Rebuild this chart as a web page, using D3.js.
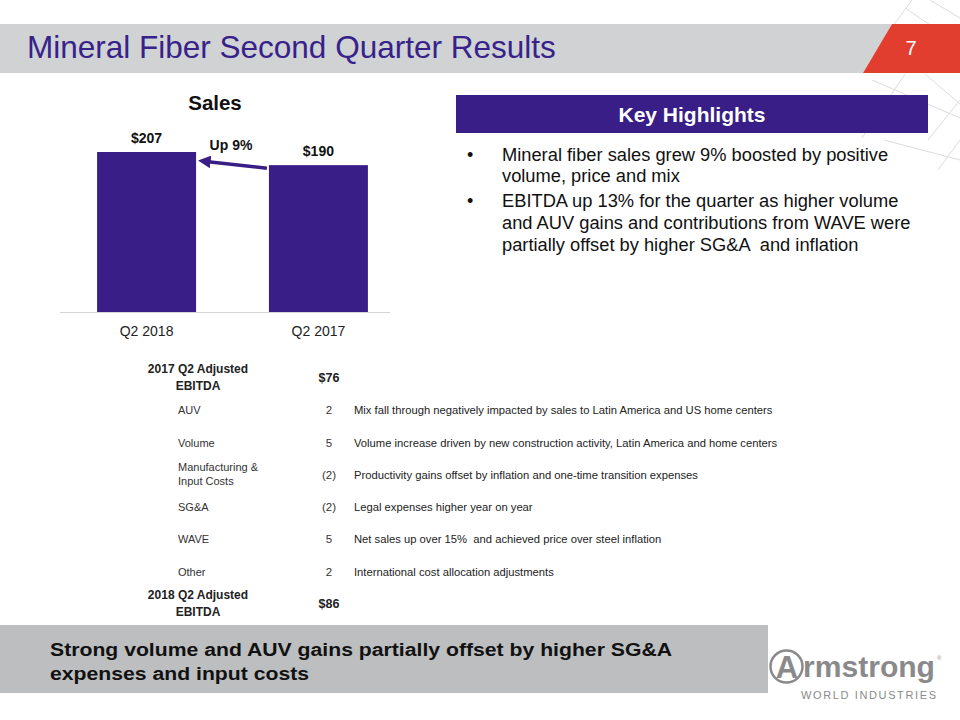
<!DOCTYPE html>
<html><head><meta charset="utf-8">
<script src="https://cdn.jsdelivr.net/npm/d3@7"></script>
<style>
body{margin:0;background:#fff}
svg{display:block;font-family:Arial,"Liberation Sans",Helvetica,sans-serif}
</style>
</head><body>
<svg id="chart" width="960" height="720"></svg>
<script>
// ---------- data ----------
const pageTitle = "Mineral Fiber Second Quarter Results";
const pageNumber = "7";
const chartTitle = "Sales";
const categories = ["Q2 2018", "Q2 2017"];
const salesValues = [207, 190];
const changeLabel = "Up 9%";

const highlightsTitle = "Key Highlights";
const highlights = [
  ["Mineral fiber sales grew 9% boosted by positive", "volume, price and mix"],
  ["EBITDA up 13% for the quarter as higher volume", "and AUV gains and contributions from WAVE were", "partially offset by higher SG&A  and inflation"]
];

const bridgeStartLabel = ["2017 Q2 Adjusted", "EBITDA"];
const bridgeStartValue = 76;
const bridgeItems = [["AUV"], ["Volume"], ["Manufacturing &", "Input Costs"], ["SG&A"], ["WAVE"], ["Other"]];
const bridgeValues = [2, 5, -2, -2, 5, 2];
const bridgeNotes = [
  "Mix fall through negatively impacted by sales to Latin America and US home centers",
  "Volume increase driven by new construction activity, Latin America and home centers",
  "Productivity gains offset by inflation and one-time transition expenses",
  "Legal expenses higher year on year",
  "Net sales up over 15%  and achieved price over steel inflation",
  "International cost allocation adjustments"
];
const bridgeEndLabel = ["2018 Q2 Adjusted", "EBITDA"];
const bridgeEndValue = 86;

const takeaway = ["Strong volume and AUV gains partially offset by higher SG&A", "expenses and input costs"];

// ---------- styles ----------
const PURPLE = "#381e86";
const svg = d3.select("#chart");

// decorative lattice (background)
const deco = svg.append("g").attr("stroke", "#dcdce0").attr("stroke-width", 1).attr("fill", "none");
[[[912,0],[868,60]],[[930,0],[960,18]],[[905,8],[960,45]],[[895,30],[960,60]],
 [[862,138],[905,74]],[[872,80],[960,118]],[[925,74],[960,104]],[[928,140],[960,100]],
 [[884,140],[960,160]],[[938,170],[960,140]],[[945,60],[960,40]]]
 .forEach(p => deco.append("line").attr("x1",p[0][0]).attr("y1",p[0][1]).attr("x2",p[1][0]).attr("y2",p[1][1]));

// title band
svg.append("path").attr("d", "M0,24 L892,24 L863,73 L0,73 Z").attr("fill", "#d1d2d4");
svg.append("path").attr("d", "M892,24 L960,24 L960,73 L863,73 Z").attr("fill", "#e23e30");
svg.append("text").attr("x", 27).attr("y", 58).attr("font-size", 31.5).attr("fill", "#36228a")
  .text(pageTitle);
svg.append("text").attr("x", 911).attr("y", 55).attr("text-anchor", "middle").attr("font-size", 20)
  .attr("fill", "#fff").text(pageNumber);

// ---------- sales bar chart ----------
const x = d3.scaleBand().domain(categories).range([61, 404]).paddingInner(0.424).paddingOuter(0.21);
const y = d3.scaleLinear().domain([0, 250]).range([312, 312 - 250 * 160 / 207]);

svg.append("text").attr("x", 215).attr("y", 110).attr("text-anchor", "middle")
  .attr("font-size", 20.5).attr("font-weight", "bold").attr("fill", "#111").text(chartTitle);

svg.append("g").selectAll("rect").data(salesValues).join("rect")
  .attr("x", (d, i) => x(categories[i])).attr("width", x.bandwidth())
  .attr("y", d => y(d)).attr("height", d => y(0) - y(d)).attr("fill", PURPLE);

svg.append("g").selectAll("text").data(salesValues).join("text")
  .attr("x", (d, i) => x(categories[i]) + x.bandwidth() / 2)
  .attr("y", d => y(d) - 9).attr("text-anchor", "middle")
  .attr("font-size", 14).attr("font-weight", "bold").attr("fill", "#111")
  .text(d => "$" + d);

const xAxis = svg.append("g").attr("transform", `translate(0,${y(0)})`)
  .call(d3.axisBottom(x).tickSize(0).tickPadding(14));
xAxis.select(".domain").remove();
xAxis.selectAll("text").attr("font-size", 14).attr("fill", "#222").attr("font-family", "Arial, 'Liberation Sans', sans-serif");
svg.append("line").attr("x1", 60).attr("x2", 390).attr("y1", y(0) + 0.5).attr("y2", y(0) + 0.5)
  .attr("stroke", "#d4d4d4").attr("stroke-width", 1);

// change arrow
const tailX = x(categories[1]) - 2, tailY = y(salesValues[1]) + 3;
const tipX = x(categories[0]) + x.bandwidth() + 4, tipY = y(salesValues[0]) + 9;
svg.append("defs").append("marker").attr("id", "ah").attr("viewBox", "0 0 10 10")
  .attr("refX", 2).attr("refY", 5).attr("markerWidth", 3.6).attr("markerHeight", 3.6)
  .attr("orient", "auto").append("path").attr("d", "M0,0 L10,5 L0,10 Z").attr("fill", PURPLE);
svg.append("line").attr("x1", tailX).attr("y1", tailY).attr("x2", tipX + 8).attr("y2", tipY + 0.7)
  .attr("stroke", PURPLE).attr("stroke-width", 3.5).attr("marker-end", "url(#ah)");
svg.append("text").attr("x", 231).attr("y", 150).attr("text-anchor", "middle")
  .attr("font-size", 14).attr("font-weight", "bold").attr("fill", "#111").text(changeLabel);

// ---------- key highlights ----------
svg.append("rect").attr("x", 456).attr("y", 95).attr("width", 472).attr("height", 38).attr("fill", PURPLE);
svg.append("text").attr("x", 692).attr("y", 122).attr("text-anchor", "middle")
  .attr("font-size", 21).attr("font-weight", "bold").attr("fill", "#fff").text(highlightsTitle);
const hlBase = [[161, 182], [207, 229, 251]];
highlights.forEach((lines, i) => {
  svg.append("text").attr("x", 467).attr("y", hlBase[i][0]).attr("font-size", 18).attr("fill", "#111").text("•");
  lines.forEach((ln, j) => {
    svg.append("text").attr("x", 502).attr("y", hlBase[i][j]).attr("font-size", 18.3)
      .attr("fill", "#111").attr("xml:space", "preserve").style("white-space", "pre").text(ln);
  });
});

// ---------- EBITDA bridge table ----------
const rowY = d3.scalePoint().domain(d3.range(bridgeItems.length + 2)).range([378, 604]);
const fmt = v => v < 0 ? `(${-v})` : `${v}`;
const tbl = svg.append("g").attr("fill", "#222");

function header(label, value, i) {
  const c = rowY(i);
  tbl.append("text").attr("x", 198).attr("y", c - 5).attr("text-anchor", "middle")
    .attr("font-size", 12).attr("font-weight", "bold").text(label[0]);
  tbl.append("text").attr("x", 198).attr("y", c + 12).attr("text-anchor", "middle")
    .attr("font-size", 12).attr("font-weight", "bold").text(label[1]);
  tbl.append("text").attr("x", 329).attr("y", c + 4).attr("text-anchor", "middle")
    .attr("font-size", 12.5).attr("font-weight", "bold").text("$" + value);
}
header(bridgeStartLabel, bridgeStartValue, 0);
header(bridgeEndLabel, bridgeEndValue, bridgeItems.length + 1);

const notes = [];
bridgeItems.forEach((lab, k) => {
  const c = rowY(k + 1);
  if (lab.length === 1) {
    tbl.append("text").attr("x", 178).attr("y", c + 4).attr("font-size", 11).attr("fill", "#333").text(lab[0]);
  } else {
    tbl.append("text").attr("x", 178).attr("y", c - 4).attr("font-size", 11).attr("fill", "#333").text(lab[0]);
    tbl.append("text").attr("x", 178).attr("y", c + 10).attr("font-size", 11).attr("fill", "#333").text(lab[1]);
  }
  tbl.append("text").attr("x", 329).attr("y", c + 4).attr("text-anchor", "middle")
    .attr("font-size", 11.5).attr("fill", "#333").text(fmt(bridgeValues[k]));
  const g = tbl.append("g").attr("transform", `translate(354,${c + 4})`);
  notes.push(g.append("text").attr("x", 0).attr("y", 0).attr("font-size", 11).attr("fill", "#222")
    .style("white-space", "pre").text(bridgeNotes[k]));
});
// condense the note font to the narrow face used in the original
const natural = notes[0].node().getComputedTextLength();
const k = 419 / natural;
notes.forEach(n => n.attr("transform", `scale(${k},1)`));

// ---------- takeaway banner ----------
svg.append("rect").attr("x", 0).attr("y", 625).attr("width", 768).attr("height", 68).attr("fill", "#bdbec0");
const t1 = svg.append("text").attr("x", 50).attr("y", 656).attr("font-size", 18).attr("font-weight", "bold")
  .attr("fill", "#111").text(takeaway[0]);
const tk = 622 / t1.node().getComputedTextLength();
t1.attr("textLength", 622).attr("lengthAdjust", "spacingAndGlyphs");
const t2 = svg.append("text").attr("x", 50).attr("y", 680).attr("font-size", 18).attr("font-weight", "bold")
  .attr("fill", "#111").text(takeaway[1]);
t2.attr("textLength", t2.node().getComputedTextLength() * tk).attr("lengthAdjust", "spacingAndGlyphs");

// ---------- logo ----------
const logo = svg.append("g").attr("fill", "#8a8a8c");
logo.append("circle").attr("cx", 786.5).attr("cy", 666.5).attr("r", 16).attr("fill", "none")
  .attr("stroke", "#8a8a8c").attr("stroke-width", 2.5);
logo.append("text").attr("x", 787).attr("y", 678).attr("text-anchor", "middle")
  .attr("font-size", 31).attr("font-weight", "bold").text("A");
logo.append("text").attr("x", 803).attr("y", 677).attr("font-size", 30).attr("font-weight", "bold")
  .attr("textLength", 132).attr("lengthAdjust", "spacingAndGlyphs").text("rmstrong");
logo.append("text").attr("x", 937).attr("y", 660).attr("font-size", 6).text("®");
logo.append("text").attr("x", 801).attr("y", 699).attr("font-size", 11)
  .attr("textLength", 135).attr("lengthAdjust", "spacing").text("WORLD INDUSTRIES");
</script>
</body></html>
